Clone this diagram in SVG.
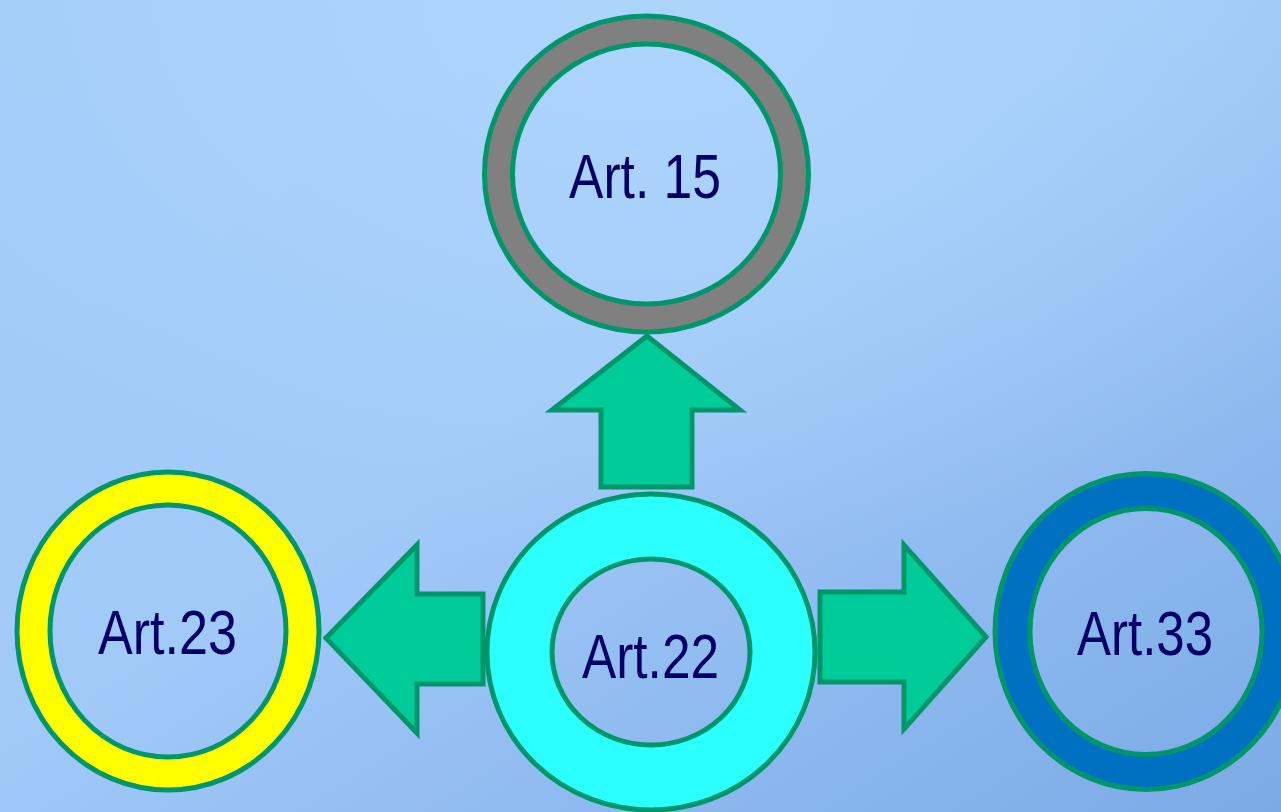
<svg xmlns="http://www.w3.org/2000/svg" width="1281" height="812" viewBox="0 0 1281 812">
<defs>
<linearGradient id="bg" x1="0" y1="0" x2="1" y2="1">
<stop offset="0" stop-color="#A3CBF8"/>
<stop offset="0.45" stop-color="#A2CAF9"/>
<stop offset="1" stop-color="#7CAAE6"/>
</linearGradient>
<radialGradient id="hl" cx="0.5" cy="0" r="0.7">
<stop offset="0" stop-color="#AED6FC" stop-opacity="0.9"/>
<stop offset="1" stop-color="#AED6FC" stop-opacity="0"/>
</radialGradient>
<style>
.ring{stroke:#00966B;stroke-width:5;fill-rule:evenodd}
.arrow{fill:#00CC99;stroke:#00966B;stroke-width:5;stroke-linejoin:miter}
.lbl{font-family:"Liberation Sans",Arial,sans-serif;font-size:63px;fill:#000066;text-anchor:middle}
</style>
</defs>
<rect width="1281" height="812" fill="url(#bg)"/>
<rect width="1281" height="812" fill="url(#hl)"/>
<g id="node-art15">
<path class="ring" fill="#808080" d="M484.5,174 a162,158 0 1,0 324,0 a162,158 0 1,0 -324,0 Z M512.5,174 a134,130 0 1,0 268,0 a134,130 0 1,0 -268,0 Z"/>
<text class="lbl" x="645" y="198" textLength="152" lengthAdjust="spacingAndGlyphs">Art. 15</text>
</g>
<g id="node-art22">
<path class="ring" fill="#2BFFFF" d="M487,652 a164,158 0 1,0 328,0 a164,158 0 1,0 -328,0 Z M552,652 a99,93 0 1,0 198,0 a99,93 0 1,0 -198,0 Z"/>
<text class="lbl" x="650.5" y="678" textLength="137" lengthAdjust="spacingAndGlyphs">Art.22</text>
</g>
<g id="node-art23">
<path class="ring" fill="#FFFF00" d="M17,631 a151,159 0 1,0 302,0 a151,159 0 1,0 -302,0 Z M50,631 a118,126 0 1,0 236,0 a118,126 0 1,0 -236,0 Z"/>
<text class="lbl" x="167.5" y="654" textLength="139" lengthAdjust="spacingAndGlyphs">Art.23</text>
</g>
<g id="node-art33">
<path class="ring" fill="#0070C0" d="M995,631.5 a151,158 0 1,0 302,0 a151,158 0 1,0 -302,0 Z M1030,631.5 a116,123 0 1,0 232,0 a116,123 0 1,0 -232,0 Z"/>
<text class="lbl" x="1145" y="655" textLength="136" lengthAdjust="spacingAndGlyphs">Art.33</text>
</g>
<g id="connectors">
<polygon class="arrow" points="647,336 740,410 692,410 692,487 601,487 601,410 552,410"/>
<polygon class="arrow" points="326,638 417,545 417,594 483,594 483,684 417,684 417,733"/>
<polygon class="arrow" points="986,637 904,545 904,592 820,592 820,682 904,682 904,729"/>
</g>
</svg>
